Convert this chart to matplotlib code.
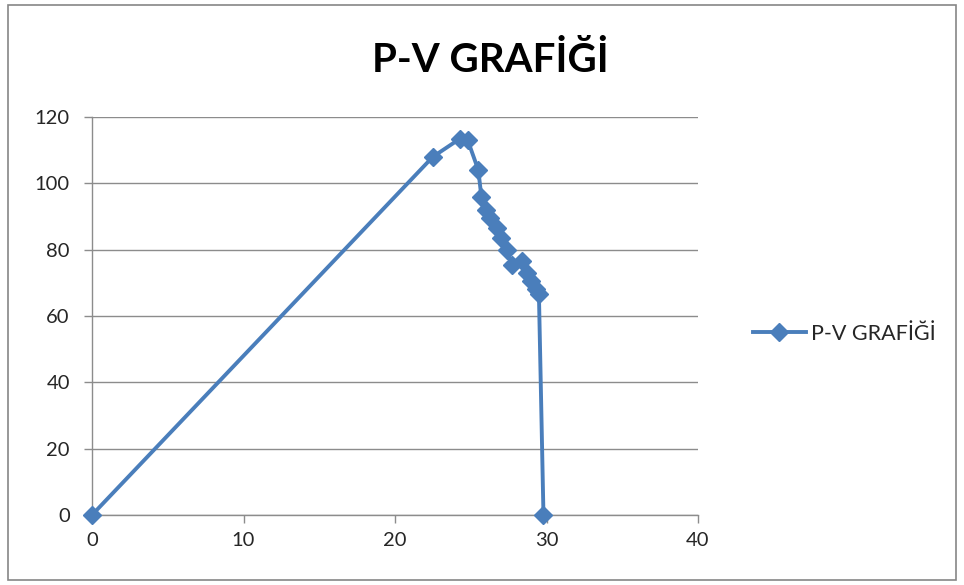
import matplotlib
matplotlib.use("Agg")
import matplotlib.pyplot as plt
from matplotlib.patches import Rectangle

# Volume / pressure readings
volume = [0, 22.5, 24.3, 24.8, 25.5, 25.7, 26.0, 26.3, 26.7, 27.0, 27.4, 27.7,
          28.4, 28.7, 29.0, 29.3, 29.5, 29.8]
pressure = [0, 108, 113.5, 113, 104, 96, 92, 89.5, 86.5, 83.5, 80, 75.5,
            76.5, 73, 70.5, 68, 66.5, 0]

series_name = "P-V GRAFİĞİ"
title = "P-V GRAFİĞİ"
x_ticks = [0, 10, 20, 30, 40]
y_ticks = [0, 20, 40, 60, 80, 100, 120]

blue = "#4A7EBB"
grid_gray = "#8C8C8C"
plt.rcParams['font.family'] = ['Lato', 'DejaVu Sans']

fig = plt.figure(figsize=(9.64, 5.85), dpi=100)
W, H = 964, 585
ax = fig.add_axes([92 / W, 1 - 515 / H, (698 - 92) / W, (515 - 117) / H])

ax.plot(volume, pressure, color=blue, linewidth=2.8, marker="D", markersize=9.5,
        markerfacecolor=blue, markeredgecolor=blue, label=series_name,
        clip_on=False, zorder=3)

ax.set_xlim(0, 40)
ax.set_ylim(0, 120)
ax.set_xticks(x_ticks)
ax.set_yticks(y_ticks)
ax.yaxis.grid(True, color=grid_gray, linewidth=1)
ax.set_axisbelow(True)
for s in ("top", "right"):
    ax.spines[s].set_visible(False)
for s in ("left", "bottom"):
    ax.spines[s].set_color(grid_gray)
    ax.spines[s].set_linewidth(1)
ax.tick_params(axis="both", direction="out", length=6, color=grid_gray,
               labelsize=14.5, labelcolor="#262626", width=1)
ax.tick_params(axis="y", pad=10)
ax.tick_params(axis="x", pad=6)

fig.text(490 / W, 1 - 60 / H, title, ha="center", va="center",
         fontsize=29, fontweight="bold", color="#000000")

leg = ax.legend(loc="center left", bbox_to_anchor=(1.058, 0.455), frameon=False,
                fontsize=15.5, handlelength=2.5, handletextpad=0.2)
for t in leg.get_texts():
    t.set_color("#262626")

# outer chart border
fig.patches.append(Rectangle((8 / W, 5 / H), (956 - 8) / W, (580 - 5) / H,
                             transform=fig.transFigure, fill=False,
                             edgecolor="#868686", linewidth=1.2))

fig.savefig("out.png", dpi=100)
